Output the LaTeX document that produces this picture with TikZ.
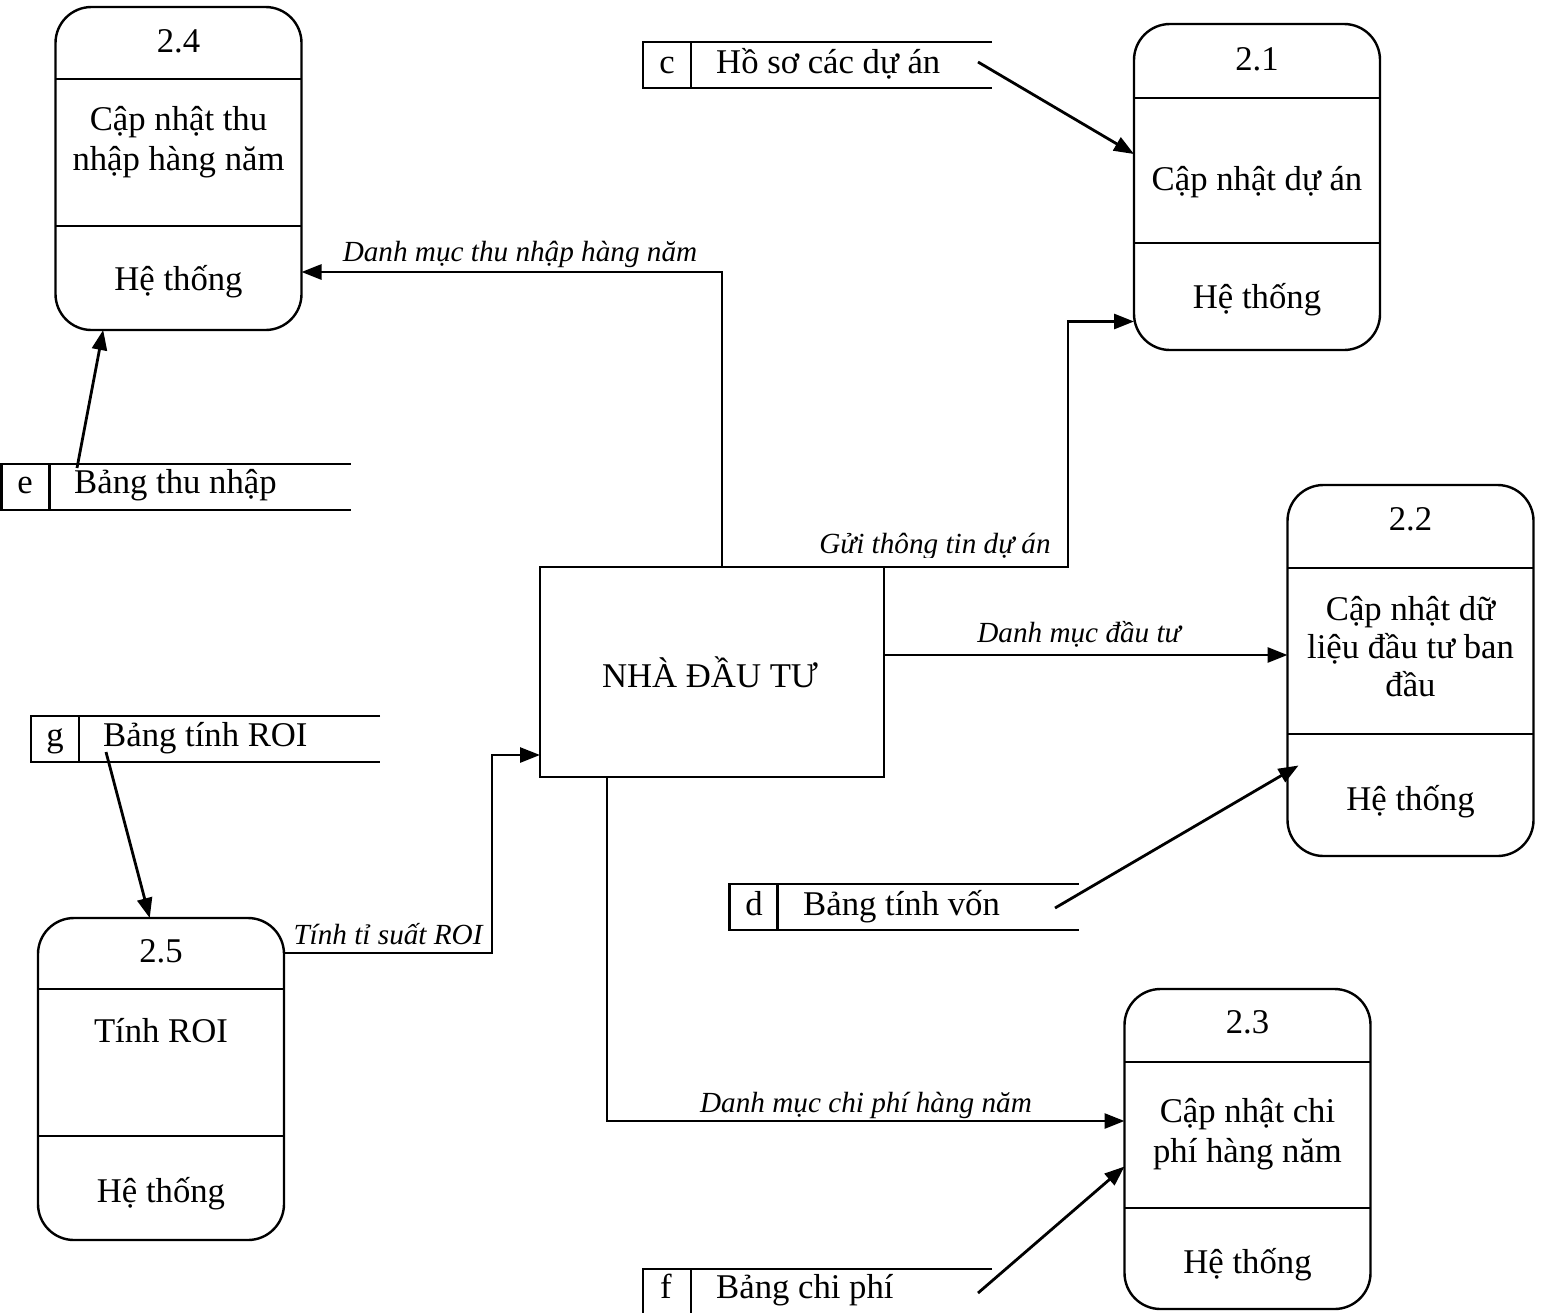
\documentclass[tikz,border=0pt]{standalone}
\usepackage{fontspec}
\setmainfont{Liberation Serif}
\usetikzlibrary{arrows.meta,calc}

% open-ended data store: top, left and bottom sides plus the id divider
\newcommand{\openstore}[1]{%
  \draw[storeline] (#1.north east) -- (#1.north west) -- (#1.south west) -- (#1.south east);
  \draw[storeline] ([xshift=48pt]#1.north west) -- ([xshift=48pt]#1.south west);}

\begin{document}
\begin{tikzpicture}[x=1pt,y=-1pt,
  proc/.style={draw, line width=2.4pt, rounded corners=36pt, minimum width=246pt,
               inner sep=0pt, outer sep=0pt},
  ent/.style={draw, line width=2.4pt, minimum width=344pt, minimum height=210pt,
              inner sep=0pt, outer sep=0pt},
  store/.style={minimum width=349pt, minimum height=46pt, inner sep=0pt, outer sep=0pt},
  storeline/.style={line width=2.6pt},
  divider/.style={line width=2.2pt},
  txt/.style={font=\fontsize{34.7pt}{40pt}\selectfont, inner sep=0pt, anchor=base},
  stxt/.style={txt, anchor=base west},
  lbl/.style={font=\fontsize{29.2pt}{34pt}\selectfont\itshape, inner sep=0pt, anchor=base},
  flow/.style={line width=2.8pt, -{Triangle[length=20pt,width=15pt]}}]

\useasboundingbox (0,0) rectangle (1541,1312);

% ---------- processes ----------
\node[proc, minimum height=323pt] (p24) at (178.5,168.5) {};
\draw[divider] (p24.west |- 0,79) -- (p24.east |- 0,79);
\draw[divider] (p24.west |- 0,226) -- (p24.east |- 0,226);
\node[txt] (p24-id) at (178.5,52) {2.4};
\node[txt] (p24-n1) at (178.5,130) {Cập nhật thu};
\node[txt] (p24-n2) at (178.5,170) {nhập hàng năm};
\node[txt] (p24-by) at (178.5,290) {Hệ thống};

\node[proc, minimum height=326pt] (p21) at (1257,187) {};
\draw[divider] (p21.west |- 0,98) -- (p21.east |- 0,98);
\draw[divider] (p21.west |- 0,243) -- (p21.east |- 0,243);
\node[txt] (p21-id) at (1257,70) {2.1};
\node[txt] (p21-n1) at (1257,190) {Cập nhật dự án};
\node[txt] (p21-by) at (1257,308) {Hệ thống};

\node[proc, minimum height=371pt] (p22) at (1410.5,670.5) {};
\draw[divider] (p22.west |- 0,568) -- (p22.east |- 0,568);
\draw[divider] (p22.west |- 0,734) -- (p22.east |- 0,734);
\node[txt] (p22-id) at (1410.5,530) {2.2};
\node[txt] (p22-n1) at (1410.5,620) {Cập nhật dữ};
\node[txt] (p22-n2) at (1410.5,658) {liệu đầu tư ban};
\node[txt] (p22-n3) at (1410.5,696) {đầu};
\node[txt] (p22-by) at (1410.5,810) {Hệ thống};

\node[proc, minimum height=320pt] (p23) at (1247.5,1149) {};
\draw[divider] (p23.west |- 0,1062) -- (p23.east |- 0,1062);
\draw[divider] (p23.west |- 0,1208) -- (p23.east |- 0,1208);
\node[txt] (p23-id) at (1247.5,1033) {2.3};
\node[txt] (p23-n1) at (1247.5,1122) {Cập nhật chi};
\node[txt] (p23-n2) at (1247.5,1162) {phí hàng năm};
\node[txt] (p23-by) at (1247.5,1273) {Hệ thống};

\node[proc, minimum height=322pt] (p25) at (161,1079) {};
\draw[divider] (p25.west |- 0,989) -- (p25.east |- 0,989);
\draw[divider] (p25.west |- 0,1136) -- (p25.east |- 0,1136);
\node[txt] (p25-id) at (161,962) {2.5};
\node[txt] (p25-n1) at (161,1042) {Tính ROI};
\node[txt] (p25-by) at (161,1202) {Hệ thống};

% ---------- external entity ----------
\node[ent] (ent) at (712,672) {};
\node[txt] (ent-name) at (710,687) {NHÀ ĐẦU TƯ};

% ---------- data stores ----------
\node[store] (sc) at (817.5,65) {};
\openstore{sc}
\node[txt] (sc-id) at (667,73) {c};
\node[stxt] (sc-name) at (716,73) {Hồ sơ các dự án};

\node[store] (se) at (176,487) {};
\openstore{se}
\node[txt] (se-id) at (25,493) {e};
\node[stxt] (se-name) at (74,493) {Bảng thu nhập};

\node[store] (sg) at (205.5,739) {};
\openstore{sg}
\node[txt] (sg-id) at (55,746) {g};
\node[stxt] (sg-name) at (103,746) {Bảng tính ROI};

\node[store] (sd) at (904,907) {};
\openstore{sd}
\node[txt] (sd-id) at (754,915) {d};
\node[stxt] (sd-name) at (803,915) {Bảng tính vốn};

\node[store] (sf) at (817.5,1292) {};
\openstore{sf}
\node[txt] (sf-id) at (666,1298) {f};
\node[stxt] (sf-name) at (716,1298) {Bảng chi phí};

% ---------- flows from the entity ----------
\draw[flow] ([xshift=97pt]ent.north west) -- ([xshift=182pt]ent.north west)
  |- ([yshift=-103.5pt]p24.east);
\node[lbl] (l-thunhap) at (520,261) {Danh mục thu nhập hàng năm};

\draw[flow] ([xshift=286pt]ent.north west) -- ([xshift=528pt]ent.north west)
  |- ([yshift=-134.5pt]p21.west);
\begin{scope}
  \clip (790,500) rectangle (1064,557);
  \node[lbl] (l-guitt) at (935,553) {Gửi thông tin dự án};
\end{scope}

\coordinate (eR) at ([yshift=17pt]ent.east);
\draw[flow] (eR) -- (eR -| p22.west);
\node[lbl] (l-dautu) at (1079,642) {Danh mục đầu tư};

\draw[flow] ([xshift=67pt]ent.south west) |- ([yshift=28pt]p23.west);
\node[lbl] (l-chiphi) at (866,1112) {Danh mục chi phí hàng năm};

\coordinate (eL) at ([yshift=-83pt]ent.west);
\draw[flow] ([yshift=126pt]p25.east) -| ($(eL)+(-48,0)$) -- (eL);
\node[lbl] (l-roi) at (388,944) {Tính tỉ suất ROI};

% ---------- flows from the data stores ----------
\coordinate (cT) at (978,62);
\draw[flow] (cT) -- (p21.165.4);

\coordinate (eT) at (77,468);
\draw[flow] (eT) -- (p24.245.7);

\coordinate (gT) at (106,752);
\draw[flow] (gT) -- (p25.94.6);

\coordinate (dT) at (1055,908);
\coordinate (dH) at ([xshift=11pt,yshift=-95pt]p22.west);
\draw[flow] (dT) -- (dH);

\coordinate (fT) at (978,1293);
\draw[flow] (fT) -- ([yshift=-17.5pt]p23.west);

\end{tikzpicture}
\end{document}
